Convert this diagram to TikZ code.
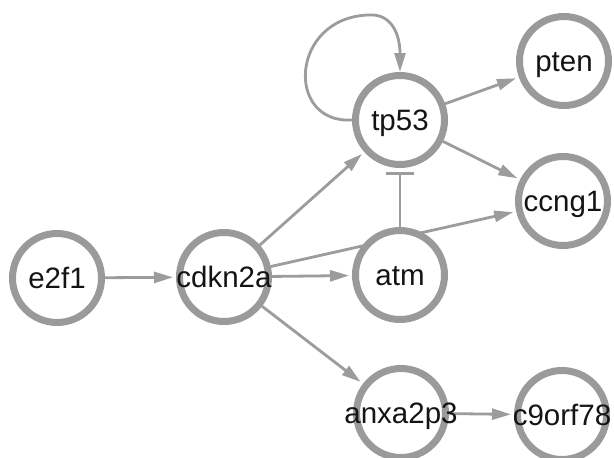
\documentclass[tikz,border=0pt]{standalone}
\usepackage{fontspec}
\setmainfont{Liberation Sans}
\usetikzlibrary{arrows.meta}
\pgfdeclarelayer{background}
\pgfsetlayers{background,main}
\definecolor{ringgray}{HTML}{9A9A9A}
\definecolor{edgegray}{HTML}{9C9C9C}
\tikzset{
  ring/.style={circle, draw=ringgray, line width=7pt, fill=white, minimum size=89pt, inner sep=0pt},
  lbl/.style={inner sep=0pt, font=\fontsize{29.5}{34}\selectfont, text=black!92, text height=21pt, text depth=0pt},
  act/.style={draw=edgegray, line width=2.8pt, -{Triangle[length=19pt,width=11pt]}, shorten >=3pt},
  inh/.style={draw=edgegray, line width=2.8pt, -{Bar[width=28pt,line width=3pt]}, shorten >=4pt},
}
\begin{document}
\begin{tikzpicture}[x=1pt,y=-1pt]
\useasboundingbox (0,0) rectangle (614,458);
% rings
\node[ring] (e2f1) at (57,278) {};
\node[ring] (cdkn2a) at (224,277) {};
\node[ring] (atm) at (400,275) {};
\node[ring] (tp53) at (400,120) {};
\node[ring] (pten) at (564,61) {};
\node[ring] (ccng1) at (563,201) {};
\node[ring] (anxa2p3) at (401,413) {};
\node[ring] (c9orf78) at (562,415) {};
% edges
\begin{pgfonlayer}{background}
\draw[act] (e2f1) -- (cdkn2a);
\draw[act] (cdkn2a) -- (atm);
\draw[act] (cdkn2a) -- (tp53);
\draw[act] (cdkn2a) -- (ccng1);
\draw[act] (cdkn2a) -- (anxa2p3);
\draw[act] (tp53) -- (pten);
\draw[act] (tp53) -- (ccng1);
\draw[inh] (atm) -- (tp53);
\draw[act] (anxa2p3) -- (c9orf78);
\draw[act, shorten >=0pt] (tp53.west) .. controls (285,124) and (290,18) .. (368,15)
   .. controls (392,13) and (400,35) .. (tp53.north);
\end{pgfonlayer}
% labels
\node[lbl] (t-e2f1) at (e2f1) {e2f1};
\node[lbl] (t-cdkn2a) at (cdkn2a) {cdkn2a};
\node[lbl] (t-atm) at (atm) {atm};
\node[lbl] (t-tp53) at (tp53) {tp53};
\node[lbl] (t-pten) at (pten) {pten};
\node[lbl] (t-ccng1) at (ccng1) {ccng1};
\node[lbl] (t-anxa2p3) at (anxa2p3) {anxa2p3};
\node[lbl] (t-c9orf78) at (c9orf78) {c9orf78};
\end{tikzpicture}
\end{document}
